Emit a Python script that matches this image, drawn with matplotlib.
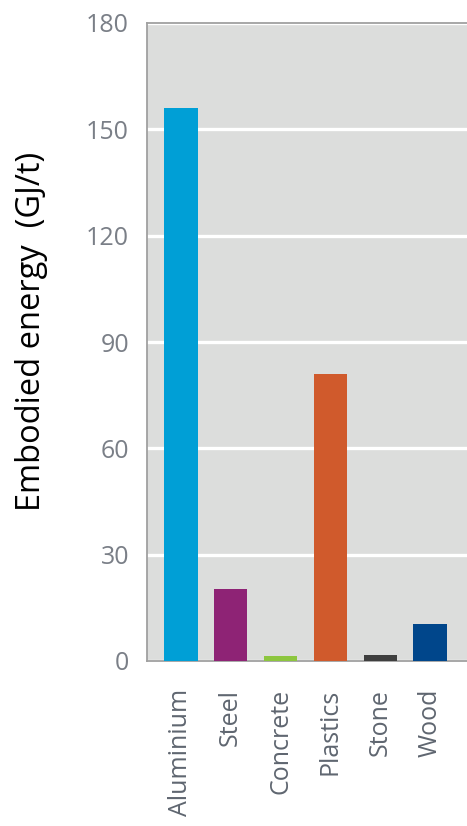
import matplotlib.pyplot as plt

# Data
materials = ['Aluminium', 'Steel', 'Concrete', 'Plastics', 'Stone', 'Wood']
energy = [156, 20.3, 1.3, 81, 1.7, 10.4]  # GJ/t
colors = ['#009fd6', '#8e2375', '#8dc63f', '#d05a2c', '#3f3f3f', '#00468b']
yticks = [0, 30, 60, 90, 120, 150, 180]

plt.rcParams['font.family'] = ['Open Sans', 'DejaVu Sans']

fig = plt.figure(figsize=(4.67, 8.26), dpi=100)
ax = fig.add_axes([147 / 467, 1 - 661 / 826, 1 - 147 / 467, (661 - 23) / 826])
ax.set_facecolor('#dcdddc')

x = range(len(materials))
ax.bar(x, energy, width=0.67, color=colors, zorder=3)

ax.set_ylim(0, 180)
ax.set_xlim(-0.68, 5.74)
ax.set_yticks(yticks)
ax.yaxis.grid(True, color='white', linewidth=2.4, zorder=1)
ax.set_axisbelow(True)

ax.set_xticks(list(x))
ax.set_xticklabels(materials, rotation=90, fontsize=18, color='#5f6670')
ax.tick_params(axis='y', labelsize=18, labelcolor='#7a7f87', length=0, pad=13)
ax.tick_params(axis='x', length=0, pad=20)

for s in ['left', 'top', 'bottom']:
    ax.spines[s].set_color('#a0a0a0')
    ax.spines[s].set_linewidth(1.3)
ax.spines['right'].set_visible(False)

ax.set_ylabel('Embodied energy  (GJ/t)', fontsize=23.5, color='black')
ax.yaxis.set_label_coords(-0.31, 0.517)

fig.savefig('out.png', dpi=100)
